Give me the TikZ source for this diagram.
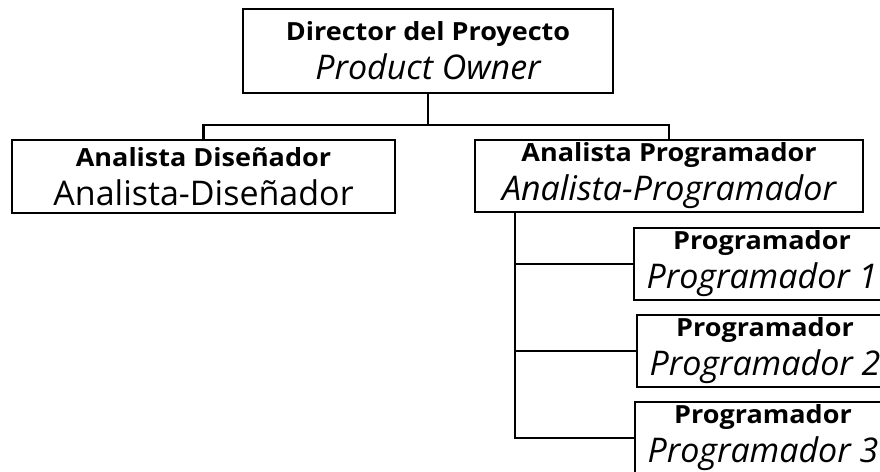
\documentclass[tikz,border=0pt]{standalone}
\usepackage{fontspec}
\setmainfont{Open Sans}[BoldFeatures={FakeStretch=1.08}]
\begin{document}
\begin{tikzpicture}[x=1pt,y=-1pt,
  box/.style={draw=black,line width=2.2pt,rectangle,inner sep=0pt,align=center,fill=white,
    font=\fontsize{34}{39}\selectfont},
  hd/.style={font=\fontsize{25}{39}\selectfont\bfseries},
  conn/.style={draw=black,line width=2.2pt},
]
\useasboundingbox (0,0) rectangle (880,471);
\begin{scope}
\clip (0,0) rectangle (880,471);
\node[box,minimum width=370pt,minimum height=84pt] (top) at (428,51)
  {{\fontsize{25}{39}\selectfont\bfseries Director del Proyecto}\\{\itshape Product Owner}};
\node[box,minimum width=383pt,minimum height=73pt] (ad) at (203.5,176.5)
  {{\fontsize{25}{39}\selectfont\bfseries Analista Diseñador}\\{Analista-Diseñador}};
\node[box,minimum width=388pt,minimum height=72pt] (ap) at (669,176)
  {{\fontsize{25}{39}\selectfont\bfseries Analista Programador}\\{\itshape Analista-Programador}};
\node[box,minimum width=256pt,minimum height=72pt] (p1) at (762,264)
  {{\fontsize{25}{37}\selectfont\bfseries Programador}\\{\itshape Programador 1}};
\node[box,minimum width=256pt,minimum height=72pt] (p2) at (765,351)
  {{\fontsize{25}{37}\selectfont\bfseries Programador}\\{\itshape Programador 2}};
\node[box,minimum width=256pt,minimum height=72pt] (p3) at (763,438)
  {{\fontsize{25}{37}\selectfont\bfseries Programador}\\{\itshape Programador 3}};
\coordinate (j) at (428,125);
\coordinate (vt) at (515,212);
\draw[conn] (top.south) -- (j);
\draw[conn] (ad.north) |- (j) -| (ap.north);
\draw[conn] (vt) |- (p3.west);
\draw[conn] (vt |- p1.west) -- (p1.west);
\draw[conn] (vt |- p2.west) -- (p2.west);
\end{scope}
\end{tikzpicture}
\end{document}
